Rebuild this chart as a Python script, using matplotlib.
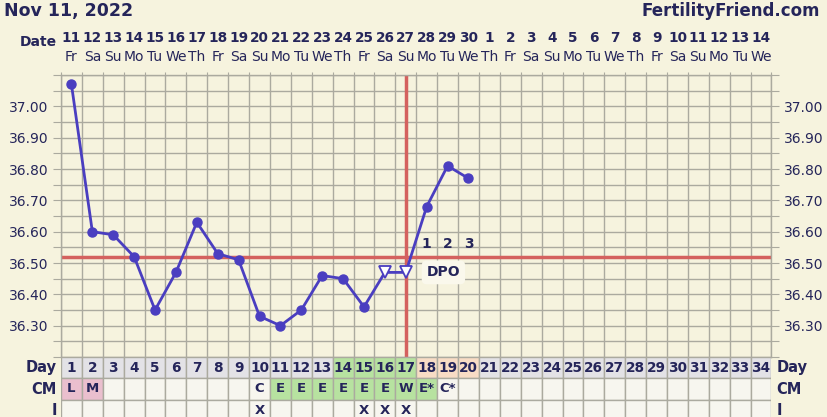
import numpy as np
import matplotlib
matplotlib.use("Agg")
import matplotlib.pyplot as plt
from matplotlib import transforms

# chart data
cycle_days = list(range(1, 35))
date_nums = [11, 12, 13, 14, 15, 16, 17, 18, 19, 20, 21, 22, 23, 24, 25, 26, 27,
             28, 29, 30, 1, 2, 3, 4, 5, 6, 7, 8, 9, 10, 11, 12, 13, 14]
week_days = ["Fr", "Sa", "Su", "Mo", "Tu", "We", "Th"] * 5
week_days = week_days[:34]

temp_days = list(range(1, 21))
temps = [37.07, 36.60, 36.59, 36.52, 36.35, 36.47, 36.63, 36.53, 36.51, 36.33,
         36.30, 36.35, 36.46, 36.45, 36.36, 36.47, 36.47, 36.68, 36.81, 36.77]
open_days = [16, 17]          # discarded / open triangle temps
coverline = 36.52
ovulation_day = 17
dpo_days = [18, 19, 20]
dpo_labels = ["1", "2", "3"]

cm_values = {1: "L", 2: "M", 10: "C", 11: "E", 12: "E", 13: "E", 14: "E",
             15: "E", 16: "E", 17: "W", 18: "E*", 19: "C*"}
intercourse_days = [10, 15, 16, 17]
fertile_days = [14, 15, 16, 17]
luteal_days = [18, 19, 20]
pink_cm_days = [1, 2]
green_cm_days = [11, 12, 13, 14, 15, 16, 17, 18]

# colours
BG = "#F6F3DE"
NAVY = "#25255A"
GRID = "#ABAA9F"
LINE = "#4A3EC0"
RED = "#D4615E"

W, H = 828, 417
fig = plt.figure(figsize=(W / 100, H / 100), dpi=100, facecolor=BG)

left, right = 61, 771.5
top, bottom = 75, 357
ax = fig.add_axes([left / W, (H - bottom) / H, (right - left) / W, (bottom - top) / H])
ax.set_facecolor(BG)
ax.set_xlim(0.5, 34.5)
ax.set_ylim(36.20, 37.10)

ax.set_xticks(np.arange(0.5, 35, 1))
ax.set_xticklabels([])
yt = np.round(np.arange(36.20, 37.101, 0.05), 2)
ax.set_yticks(yt)
ax.set_yticklabels([f"{v:.2f}" if (36.29 < v < 37.01 and round(v * 100) % 10 == 0) else "" for v in yt])
ax.tick_params(axis="y", direction="out", length=6, color=GRID, labelsize=10,
               labelcolor=NAVY, left=True, right=True, labelleft=True, labelright=True, pad=3)
ax.tick_params(axis="x", direction="out", length=2, color=GRID, top=True, bottom=False)
ax.grid(True, color=GRID, lw=1)
for s in ax.spines.values():
    s.set_color(GRID)
    s.set_linewidth(1)
ax.set_axisbelow(True)

# coverline and ovulation line
ax.axhline(coverline, color=RED, lw=2.5, zorder=2)
ax.axvline(ovulation_day, color=RED, lw=2.5, zorder=2)

# temperature line
ax.plot(temp_days, temps, color=LINE, lw=2, zorder=3)
closed = [(d, t) for d, t in zip(temp_days, temps) if d not in open_days]
ax.plot([c[0] for c in closed], [c[1] for c in closed], "o", color=LINE, ms=6.5, zorder=4)
opn = [(d, t) for d, t in zip(temp_days, temps) if d in open_days]
ax.plot([c[0] for c in opn], [c[1] for c in opn], "v", mfc="white", mec=LINE, mew=1.3, ms=8, zorder=4)

# DPO labels
for d, lab in zip(dpo_days, dpo_labels):
    ax.text(d, 36.56, lab, ha="center", va="center", fontsize=10, fontweight="bold", color=NAVY, zorder=5)
ax.text(18.8, 36.47, "DPO", ha="center", va="center", fontsize=10, fontweight="bold", color=NAVY, zorder=5,
        bbox=dict(boxstyle="round,pad=0.35", fc="#FAF8EC", ec="none"))

# header rows
xf = transforms.blended_transform_factory(ax.transData, fig.transFigure)
for d, n, wd in zip(cycle_days, date_nums, week_days):
    fig.text(d, 1 - 38 / H, str(n), transform=xf, ha="center", va="center",
             fontsize=9.8, fontweight="bold", color=NAVY)
    fig.text(d, 1 - 57 / H, wd, transform=xf, ha="center", va="center",
             fontsize=10, color=NAVY)
fig.text(38 / W, 1 - 42 / H, "Date", ha="center", va="center", fontsize=10, fontweight="bold", color=NAVY)
fig.text(4 / W, 1 - 11 / H, "Nov 11, 2022", ha="left", va="center", fontsize=12.5, fontweight="bold", color=NAVY)
fig.text(820 / W, 1 - 11 / H, "FertilityFriend.com", ha="right", va="center", fontsize=12, fontweight="bold", color=NAVY)

# bottom table: Day / CM / I
tab = fig.add_axes([left / W, (H - 421) / H, (right - left) / W, (421 - bottom) / H])
tab.set_xlim(0.5, 34.5)
tab.set_ylim(3, 0)
tab.axis("off")

day_colors = []
cm_colors = []
for d in cycle_days:
    if d in fertile_days:
        day_colors.append("#B7E2A0")
    elif d in luteal_days:
        day_colors.append("#F8DCC5")
    else:
        day_colors.append("#E3E2E6")
    if d in pink_cm_days:
        cm_colors.append("#EABFCE")
    elif d in green_cm_days:
        cm_colors.append("#B7E2A0")
    else:
        cm_colors.append("#F7F6EF")

tab.bar(cycle_days, 1, bottom=0, width=1, color=day_colors, edgecolor=GRID, lw=1)
tab.bar(cycle_days, 1, bottom=1, width=1, color=cm_colors, edgecolor=GRID, lw=1)
tab.bar(cycle_days, 1, bottom=2, width=1, color="#F7F6EF", edgecolor=GRID, lw=1)

for d in cycle_days:
    tab.text(d, 0.5, str(d), ha="center", va="center", fontsize=9.8, fontweight="bold", color=NAVY)
for d, v in cm_values.items():
    tab.text(d, 1.5, v, ha="center", va="center", fontsize=9.5, fontweight="bold", color=NAVY)
for d in intercourse_days:
    tab.text(d, 2.5, "X", ha="center", va="center", fontsize=9.5, fontweight="bold", color=NAVY)

for i, lab in enumerate(["Day", "CM", "I"]):
    tab.text(0.31, i + 0.5, lab, ha="right", va="center", fontsize=10.5, fontweight="bold", color=NAVY, clip_on=False)
    tab.text(34.74, i + 0.5, lab, ha="left", va="center", fontsize=10.5, fontweight="bold", color=NAVY, clip_on=False)

fig.savefig("out.png", dpi=100, facecolor=BG)
